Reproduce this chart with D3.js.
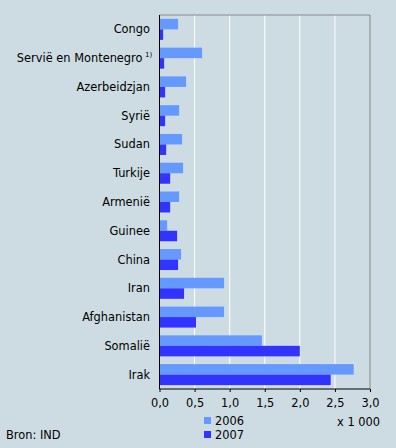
<!DOCTYPE html>
<html>
<head>
<meta charset="utf-8">
<script src="https://cdn.jsdelivr.net/npm/d3@7"></script>
<style>
  body { margin: 0; background: #cddce2; }
  svg { display: block; font-family: "DejaVu Sans", Verdana, sans-serif; }
</style>
</head>
<body>
<div id="chart"></div>
<script>
// data
const countries = ['Congo', 'Servië en Montenegro', 'Azerbeidzjan', 'Syrië', 'Sudan', 'Turkije',
  'Armenië', 'Guinee', 'China', 'Iran', 'Afghanistan', 'Somalië', 'Irak'];
const values2006 = [0.265, 0.607, 0.379, 0.28, 0.322, 0.336, 0.28, 0.109, 0.308, 0.92, 0.92, 1.46, 2.768];
const values2007 = [0.052, 0.066, 0.08, 0.08, 0.095, 0.152, 0.152, 0.251, 0.265, 0.35, 0.52, 2.0, 2.44];
const years = ['2006', '2007'];
const xTicks = [0, 0.5, 1, 1.5, 2, 2.5, 3];

const s = {
  width: 396,
  height: 448,
  margin: {top: 15, left: 159.5, right: 26, bottom: 59},
  colors: ['#6699ff', '#3333ff'],
  fontSize: 11.4
};

const svg = d3.select('#chart').append('svg')
  .attr('width', s.width)
  .attr('height', s.height)
  .style('font-size', `${s.fontSize}px`);

const x = d3.scaleLinear().domain([0, 3]).range([s.margin.left, s.width - s.margin.right]);
const y = d3.scaleBand().domain(countries)
  .range([s.margin.top, s.height - s.margin.bottom])
  .paddingInner(0.27).paddingOuter(0.135);
const ySub = d3.scaleBand().domain(years).range([0, y.bandwidth()]);

// grid
svg.append('g').selectAll('line')
  .data(xTicks.slice(1, -1))
  .join('line')
  .attr('x1', d => x(d)).attr('x2', d => x(d))
  .attr('y1', s.margin.top).attr('y2', s.height - s.margin.bottom)
  .style('stroke', '#fff').style('stroke-width', 1);

// frame top and right
svg.append('path')
  .attr('d', `M${x(0)},${s.margin.top}H${x(3)}V${s.height - s.margin.bottom}`)
  .style('fill', 'none').style('stroke', '#888').style('stroke-width', 1);

// bars
const rows = countries.map((c, i) => ({name: c, vals: [values2006[i], values2007[i]]}));
const groups = svg.append('g').selectAll('g')
  .data(rows)
  .join('g')
  .attr('transform', d => `translate(0, ${y(d.name)})`);
groups.selectAll('rect')
  .data(d => d.vals.map((v, j) => ({year: years[j], v, j})))
  .join('rect')
  .attr('x', x(0))
  .attr('y', d => ySub(d.year))
  .attr('width', d => x(d.v) - x(0))
  .attr('height', ySub.bandwidth())
  .style('fill', d => s.colors[d.j]);

// y axis
svg.append('line')
  .attr('x1', x(0)).attr('x2', x(0))
  .attr('y1', s.margin.top).attr('y2', s.height - s.margin.bottom)
  .style('stroke', '#000');

svg.append('g').selectAll('text')
  .data(countries)
  .join('text')
  .attr('x', d => d === 'Servië en Montenegro' ? 142.5 : 150)
  .attr('y', d => y(d) + y.bandwidth() / 2)
  .attr('dy', '0.35em')
  .style('text-anchor', 'end')
  .style('fill', '#000')
  .text(d => d);

svg.append('text')
  .attr('x', 145)
  .attr('y', y('Servië en Montenegro') + y.bandwidth() / 2 - 1)
  .style('font-size', '7px')
  .text('1)');

// x axis
const xAxis = d3.axisBottom(x).tickValues(xTicks).tickSize(3)
  .tickFormat(d => d3.format('.1f')(d).replace('.', ','));
const gx = svg.append('g')
  .attr('transform', `translate(0, ${s.height - s.margin.bottom})`)
  .call(xAxis);
gx.select('.domain').attr('d', `M${x(0)},0H${x(3)}`).style('stroke', '#000');
gx.selectAll('.tick line').style('stroke', '#000');
gx.selectAll('.tick text')
  .attr('y', 10)
  .style('font-family', '"DejaVu Sans", Verdana, sans-serif')
  .style('font-size', `${s.fontSize}px`)
  .style('fill', '#000');

svg.append('text')
  .attr('x', 380).attr('y', 422).attr('dy', '0.35em')
  .style('text-anchor', 'end')
  .text('x 1 000');

// legend
const legend = svg.append('g').selectAll('g')
  .data(years)
  .join('g')
  .attr('transform', (d, i) => `translate(204, ${421 + i * 14})`);
legend.append('rect')
  .attr('x', 0).attr('y', -4).attr('width', 7).attr('height', 7)
  .style('fill', (d, i) => s.colors[i]);
legend.append('text')
  .attr('x', 11).attr('y', 0).attr('dy', '0.35em')
  .text(d => d);

// source
svg.append('text')
  .attr('x', 6).attr('y', 435).attr('dy', '0.35em')
  .text('Bron: IND');
</script>
</body>
</html>
